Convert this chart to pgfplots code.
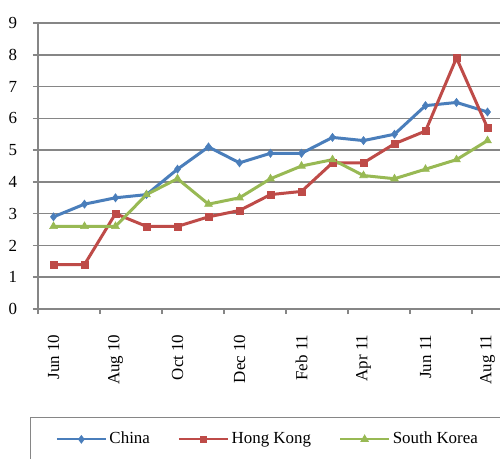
\documentclass[border=0pt]{standalone}
\usepackage{pgfplots}
\pgfplotsset{compat=1.18}
\usepackage{fontspec}
\setmainfont{Liberation Serif}
\definecolor{cblue}{HTML}{4A7EBB}
\definecolor{cred}{HTML}{BE4B48}
\definecolor{cgreen}{HTML}{98B954}
\definecolor{gridgray}{HTML}{868686}
\begin{document}
\fontsize{12.7}{15}\selectfont
\begin{tikzpicture}
\useasboundingbox (0,0) rectangle (375pt,343.5pt);
\clip (0,0) rectangle (375pt,343.5pt);
\begin{axis}[
  at={(28.5pt,111.75pt)}, anchor=south west,
  width=348.75pt, height=214.5pt, scale only axis,
  xmin=-0.5, xmax=14.5, ymin=0, ymax=9,
  axis x line*=bottom, axis y line*=left,
  axis line style={-, draw=gridgray, line width=1.1pt},
  ytick={0,1,...,9},
  ymajorgrids, major grid style={gridgray, line width=1.1pt},
  tick style={gridgray, line width=1.1pt},
  tick align=outside, major tick length=3.75pt, minor tick length=3.75pt,
  xtick={0,2,...,14},
  xticklabels={Jun 10, Aug 10, Oct 10, Dec 10, Feb 11, Apr 11, Jun 11, Aug 11},
  minor xtick={-0.5,1.5,...,14.5},
  every major x tick/.append style={draw=none},
  xticklabel style={yshift=-11pt, rotate=90, anchor=east},
  yticklabel style={xshift=-7.5pt},
  /pgf/number format/assume math mode=true,
  ticklabel style={font=\fontsize{12.7}{15}\selectfont},
  clip=false,
  legend columns=3,
  legend style={at={(axis description cs:0,0)}, anchor=north west,
    xshift=-6pt, yshift=-81pt, draw=gridgray, line width=0.75pt,
    font=\fontsize{12.7}{15}\selectfont, inner xsep=19pt, inner ysep=9pt,
    /tikz/every even column/.append style={column sep=19pt}},
  legend image code/.code={\draw[mark repeat=2,mark phase=2,#1,line width=1.5pt,mark options={scale=0.7}] plot coordinates {(0pt,0pt)(18.4pt,0pt)(36.75pt,0pt)};},
]
\addplot[cblue, line width=2.25pt, mark=diamond*, mark size=3pt, mark options={solid, line width=0.5pt}] coordinates {
(0,2.9)(1,3.3)(2,3.5)(3,3.6)(4,4.4)(5,5.1)(6,4.6)(7,4.9)(8,4.9)(9,5.4)(10,5.3)(11,5.5)(12,6.4)(13,6.5)(14,6.2)};
\addlegendentry{China}
\addplot[cred, line width=2.25pt, mark=square*, mark size=2.6pt, mark options={solid, line width=0.5pt}] coordinates {
(0,1.4)(1,1.4)(2,3.0)(3,2.6)(4,2.6)(5,2.9)(6,3.1)(7,3.6)(8,3.7)(9,4.6)(10,4.6)(11,5.2)(12,5.6)(13,7.9)(14,5.7)};
\addlegendentry{Hong Kong}
\addplot[cgreen, line width=2.25pt, mark=triangle*, mark size=3.3pt, mark options={solid, line width=0.5pt}] coordinates {
(0,2.6)(1,2.6)(2,2.6)(3,3.6)(4,4.1)(5,3.3)(6,3.5)(7,4.1)(8,4.5)(9,4.7)(10,4.2)(11,4.1)(12,4.4)(13,4.7)(14,5.3)};
\addlegendentry{South Korea}
\end{axis}
\end{tikzpicture}
\end{document}
